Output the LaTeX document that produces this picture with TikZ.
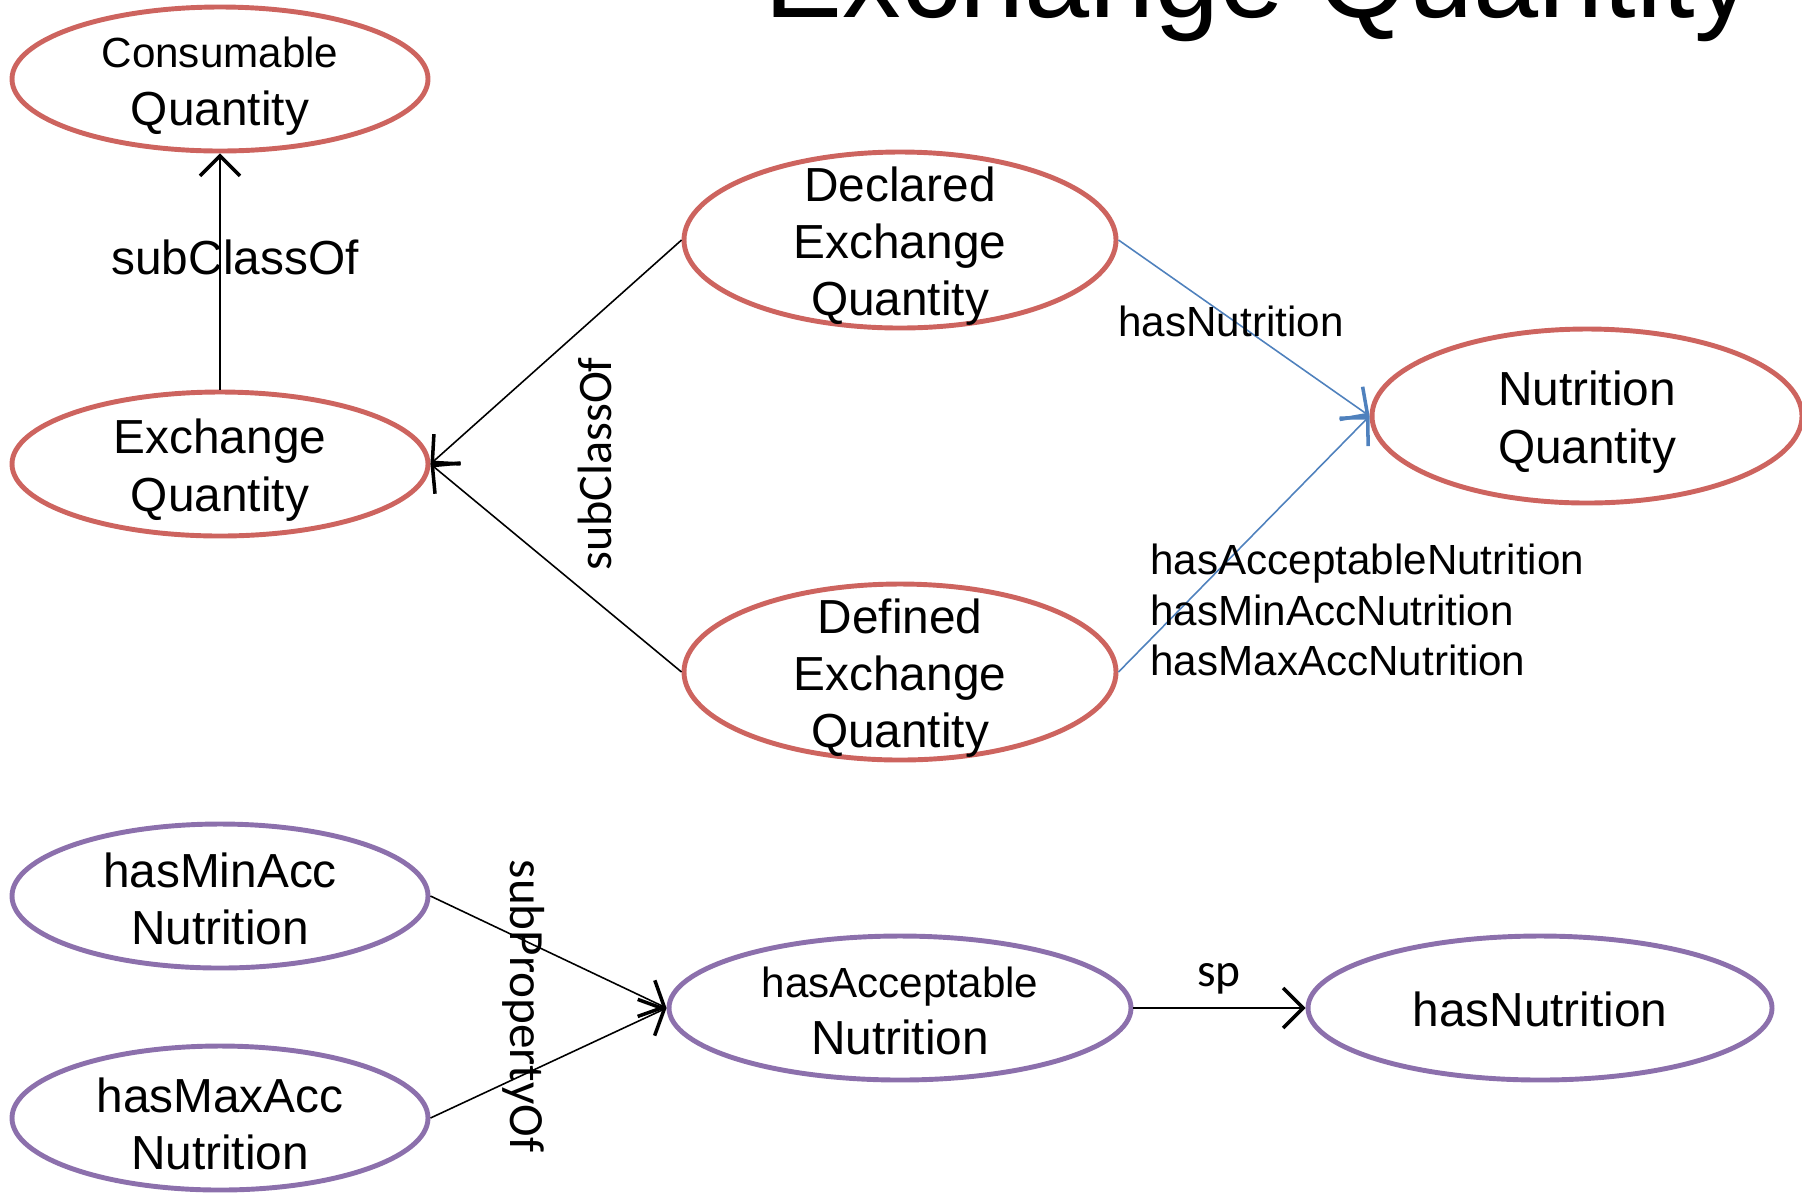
\documentclass[tikz,border=0pt]{standalone}
\usepackage{fontspec}
\setmainfont{Liberation Sans}
\newfontfamily\calibfont{Carlito}
\usetikzlibrary{arrows.meta, shapes.geometric}
\definecolor{clsred}{RGB}{205, 100, 95}
\definecolor{proppurple}{RGB}{140, 112, 172}
\definecolor{linkblue}{RGB}{79, 129, 189}
% raises the first text line's box so the lines sit a little lower in the ellipse
\newcommand{\ts}[1][13.3pt]{\rule{0pt}{#1}}

\begin{document}
\begin{tikzpicture}[>={Straight Barb[length=2mm, width=4mm, line width=1pt]},
    cls/.style={draw=clsred, line width=1.4pt, ellipse, inner xsep=0pt, inner ysep=-0.4cm,
                minimum width=4.16cm, minimum height=1.44cm, align=center,
                font=\fontsize{13.6}{16.3}\selectfont},
    prop/.style={cls, draw=proppurple},
    small/.style={font=\fontsize{12}{14.4}\selectfont},
    link/.style={->, line width=0.45pt}]
  \useasboundingbox (0, 0) rectangle (18.02, -11.94);
  \node[anchor=base west, font=\fontsize{33.3}{40}\selectfont] (title) at (7.52, -0.17) {Exchange Quantity};

  % classes
  \node[cls] (conq) at (2.20, -0.79) {\ts[12.7pt]{\fontsize{12}{14.4}\selectfont Consumable}\\Quantity};
  \node[cls] (exq) at (2.20, -4.64) {\ts Exchange\\Quantity};
  \node[cls, minimum width=4.32cm, minimum height=1.76cm] (decl) at (9.00, -2.40) {\ts Declared\\Exchange\\Quantity};
  \node[cls, minimum width=4.32cm, minimum height=1.76cm] (defq) at (9.00, -6.72) {\ts Defined\\Exchange\\Quantity};
  \node[cls, minimum width=4.30cm, minimum height=1.74cm] (nutq) at (15.87, -4.16) {\ts Nutrition\\Quantity};

  % properties
  \node[prop] (minacc) at (2.20, -8.96) {\ts[11.5pt]hasMinAcc\\Nutrition};
  \node[prop] (maxacc) at (2.20, -11.18) {\ts hasMaxAcc\\Nutrition};
  \node[prop, minimum width=4.62cm] (accn) at (9.00, -10.08) {\ts[10.5pt]{\fontsize{12}{14.4}\selectfont hasAcceptable}\\Nutrition};
  \node[prop, minimum width=4.64cm] (hasn) at (15.40, -10.08) {\ts[10.5pt]hasNutrition};

  \draw[link] (exq.north) -- (conq.south);
  \draw[link] (decl.west) -- (exq.east);
  \draw[link] (defq.west) -- (exq.east);
  \draw[link, linkblue] (decl.east) -- (nutq.west);
  \draw[link, linkblue] (defq.east) -- (nutq.west);
  \draw[link] (minacc.east) -- (accn.west);
  \draw[link] (maxacc.east) -- (accn.west);
  \draw[link] (accn.east) -- (hasn.west);

  % labels
  \node[font=\fontsize{13.6}{16.3}\selectfont] (lsub) at (2.35, -2.57) {subClassOf};
  \node[rotate=90, font=\calibfont\fontsize{13.7}{16}\selectfont] (lsubv) at (5.95, -4.64) {subClassOf};
  \node[small] (lnut) at (12.31, -3.21) {hasNutrition};
  \node[small, align=left, anchor=west] (lacc) at (11.38, -6.10)
       {hasAcceptableNutrition\\hasMinAccNutrition\\hasMaxAccNutrition};
  \node[rotate=-90, font=\calibfont\fontsize{14}{16}\selectfont] (lsubp) at (5.24, -10.06) {subPropertyOf};
  \node[font=\calibfont\fontsize{13.5}{16}\selectfont] (lsp) at (12.19, -9.79) {sp};
\end{tikzpicture}
\end{document}
